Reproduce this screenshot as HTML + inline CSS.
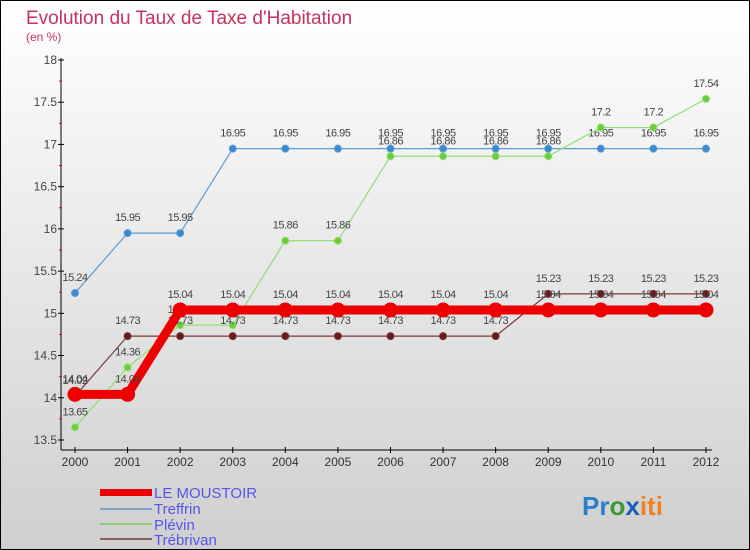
<!DOCTYPE html>
<html><head><meta charset="utf-8"><style>
body{margin:0}
#c{width:750px;height:550px;position:relative;box-sizing:border-box;border:1px solid #000;background:linear-gradient(#ffffff,#cfcfcf);font-family:"Liberation Sans",sans-serif;overflow:hidden}
</style></head><body>
<div id="c">
<svg id="s" width="750" height="550" style="position:absolute;left:-1px;top:-1px">
<text x="26" y="24" font-size="19" fill="#c8325e">Evolution du Taux de Taxe d'Habitation</text>
<text x="26" y="41" font-size="12" fill="#c8325e">(en %)</text>
<g id="axes"></g><g id="series"></g>
<g>
<rect x="100" y="489" width="52" height="7" fill="#e00"/>
<text x="154" y="498" font-size="15" fill="#5555ee">LE MOUSTOIR</text>
<rect x="100" y="508" width="52" height="2" fill="#7fa7c8"/>
<text x="154" y="514" font-size="15" fill="#5555ee">Treffrin</text>
<rect x="100" y="523" width="52" height="2" fill="#8ec87a"/>
<text x="154" y="530" font-size="15" fill="#5555ee">Plévin</text>
<rect x="100" y="538" width="52" height="2" fill="#8a6060"/>
<text x="154" y="545" font-size="15" fill="#5555ee">Trébrivan</text>
</g>
<text x="582" y="515" font-size="26" font-weight="bold"><tspan fill="#2a7fd0">Pr</tspan><tspan fill="#3a9a3a">o</tspan><tspan fill="#1a5fc0">x</tspan><tspan fill="#f08020">iti</tspan></text>
</svg>
</div>
<script>
const years=[2000,2001,2002,2003,2004,2005,2006,2007,2008,2009,2010,2011,2012];
const yTicks=[13.5,14,14.5,15,15.5,16,16.5,17,17.5,18];
const moustoir=[14.04,14.04,15.04,15.04,15.04,15.04,15.04,15.04,15.04,15.04,15.04,15.04,15.04];
const treffrin=[15.24,15.95,15.95,16.95,16.95,16.95,16.95,16.95,16.95,16.95,16.95,16.95,16.95];
const plevin=[13.65,14.36,14.86,14.86,15.86,15.86,16.86,16.86,16.86,16.86,17.2,17.2,17.54];
const trebrivan=[14.02,14.73,14.73,14.73,14.73,14.73,14.73,14.73,14.73,15.23,15.23,15.23,15.23];
const NS="http://www.w3.org/2000/svg";
const X=i=>75+i*52.58;
const Y=v=>60+(18-v)*84.44;
function mk(t,a,p){const e=document.createElementNS(NS,t);for(const k in a)e.setAttribute(k,a[k]);p.appendChild(e);return e;}
const ax=document.getElementById('axes');
let e=mk('line',{x1:61,y1:58,x2:61,y2:450,stroke:'#000'},ax);


e=mk('line',{x1:61,y1:450,x2:712,y2:450,stroke:'#000'},ax);


yTicks.forEach((v,i)=>{
 mk('line',{x1:58,y1:Y(v),x2:64,y2:Y(v),stroke:'#000'},ax);
 if(i<yTicks.length-1)mk('line',{x1:59,y1:Y(v+0.25),x2:62,y2:Y(v+0.25),stroke:'#e00'},ax);
 const t=mk('text',{x:57,y:Y(v)+4,'font-size':12,'text-anchor':'end',fill:'#444'},ax);t.textContent=String(v);
 
 
});
years.forEach((yr,i)=>{
 mk('line',{x1:X(i),y1:447,x2:X(i),y2:453,stroke:'#000'},ax);
 const t=mk('text',{x:X(i),y:466,'font-size':12,'text-anchor':'middle',fill:'#333'},ax);t.textContent=yr;
 
 
});
const sg=document.getElementById('series');
function series(data,name,color,w,r,dot){
 const g=mk('g',{},sg);
 
 
 const pl=mk('polyline',{points:data.map((v,i)=>X(i)+','+Y(v)).join(' '),fill:'none',stroke:color,'stroke-width':w,'stroke-linejoin':'round'},g);
 
 
 data.forEach((v,i)=>{
  const c=mk('circle',{cx:X(i),cy:Y(v),r:r,fill:dot,stroke:color,'stroke-width':1},g);
  
  
  const t=mk('text',{x:X(i),y:Y(v)-12,'font-size':11,'text-anchor':'middle',fill:'#444','letter-spacing':'-0.5'},g);
  t.textContent=String(v);
  
  
 });
}
series(treffrin,'treffrin','#5b9bd5',1.2,3.5,'#3a8ad0');
series(plevin,'plevin','#8ee070',1.2,3.5,'#6ccc3c');
series(trebrivan,'trebrivan','#7a3a3a',1.2,3.5,'#6a1a1a');
series(moustoir,'le-moustoir','#ee0000',9,7,'#ee0000');
</script>
</body></html>
